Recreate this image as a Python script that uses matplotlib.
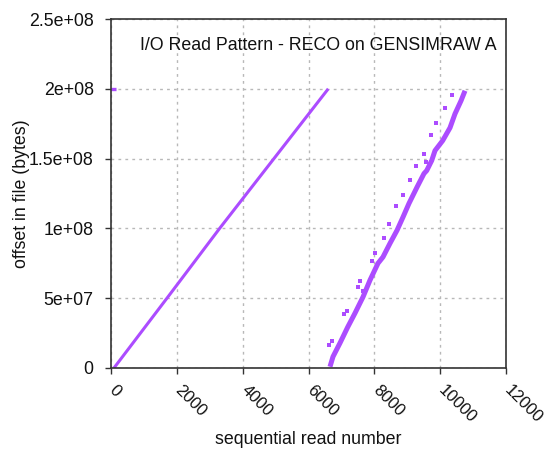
import matplotlib
matplotlib.use("Agg")
import matplotlib.pyplot as plt
import matplotlib.transforms as mtransforms
from matplotlib.ticker import FixedLocator, FixedFormatter

plt.rcParams['font.family'] = ['Liberation Sans', 'DejaVu Sans']

# --- data ---
# header reads at end of file
head_reads = [0, 160]
head_offsets = [2.0e8, 2.0e8]

# first sequential pass
pass1_reads = [90, 1700, 3300, 4950, 6600]
pass1_offsets = [0.0, 5.0e7, 1.0e8, 1.5e8, 2.0e8]

# second (noisy) pass, band centre
pass2_reads = [6653, 6744, 6957, 7191, 7413, 7656, 7868, 8111, 8263, 8476, 8689,
               8871, 9053, 9296, 9509, 9591, 9743, 9843, 10077, 10299, 10451,
               10633, 10755]
pass2_offsets = [0.9e6, 8.1e6, 1.79e7, 2.93e7, 3.93e7, 5.09e7, 6.29e7, 7.50e7,
                 7.95e7, 8.93e7, 9.86e7, 1.081e8, 1.179e8, 1.295e8, 1.393e8,
                 1.414e8, 1.486e8, 1.557e8, 1.629e8, 1.721e8, 1.821e8, 1.914e8,
                 1.986e8]

# scattered reads off the band
out_reads = [10350, 10156, 9864, 9722, 9518, 9560, 9257, 9084, 8862, 8658, 8437,
             8285, 8029, 7914, 7565, 7513, 7656, 7161, 7079, 6705, 6629]
out_offsets = [1.957e8, 1.859e8, 1.755e8, 1.671e8, 1.536e8, 1.479e8, 1.445e8,
               1.350e8, 1.236e8, 1.162e8, 1.029e8, 9.29e7, 8.24e7, 7.69e7,
               6.25e7, 5.81e7, 5.50e7, 4.09e7, 3.84e7, 1.93e7, 1.68e7]

x_ticks = [0, 2000, 4000, 6000, 8000, 10000, 12000]
x_labels = ['0', '2000', '4000', '6000', '8000', '10000', '12000']
y_ticks = [0, 5e7, 1e8, 1.5e8, 2e8, 2.5e8]
y_labels = ['0', '5e+07', '1e+08', '1.5e+08', '2e+08', '2.5e+08']

title = 'I/O Read Pattern - RECO on GENSIMRAW A'
color = '#ac4cff'
fs = 12.8

fig = plt.figure(figsize=(5.44, 4.5), dpi=100)
ax = fig.add_axes([111/544, 1-368/450, (506-111)/544, (368-19)/450])

ax.plot(head_reads, head_offsets, color=color, lw=2.4, solid_capstyle='butt')
ax.plot(pass1_reads, pass1_offsets, color=color, lw=2.2, solid_capstyle='butt')
ax.plot(pass2_reads, pass2_offsets, color=color, lw=3.6, solid_capstyle='butt')
ax.plot(out_reads, out_offsets, ls='none', marker='s', ms=2.6, mew=0, color=color)

ax.set_xlim(0, 12000)
ax.set_ylim(0, 2.5e8)
ax.xaxis.set_major_locator(FixedLocator(x_ticks))
ax.xaxis.set_major_formatter(FixedFormatter(x_labels))
ax.yaxis.set_major_locator(FixedLocator(y_ticks))
ax.yaxis.set_major_formatter(FixedFormatter(y_labels))

ax.grid(True, color='#b8b8b8', linestyle=(0, (2, 3)), linewidth=1.0)
ax.set_axisbelow(True)
for s in ax.spines.values():
    s.set_color('#333333')
    s.set_linewidth(1.2)

ax.tick_params(axis='both', direction='out', length=4, width=1, color='#333333',
               labelcolor='#111111', top=False, right=False)
ax.tick_params(axis='y', pad=8.5, labelsize=fs)
ax.tick_params(axis='x', labelsize=12)
offset = mtransforms.ScaledTranslation(6/100, -4/100, fig.dpi_scale_trans)
for lab in ax.get_xticklabels():
    lab.set_rotation(-45)
    lab.set_ha('left')
    lab.set_va('top')
    lab.set_rotation_mode('anchor')
    lab.set_transform(lab.get_transform() + offset)

ax.set_xlabel('sequential read number', fontsize=fs, color='#111111')
ax.xaxis.set_label_coords(0.5, -0.18)
ax.set_ylabel('offset in file (bytes)', fontsize=fs, color='#111111')
ax.yaxis.set_label_coords(-0.205, 0.5)
ax.text(0.977, 0.925, title, transform=ax.transAxes, ha='right', va='center',
        fontsize=fs, color='#111111')

fig.savefig('out.png', dpi=100)
